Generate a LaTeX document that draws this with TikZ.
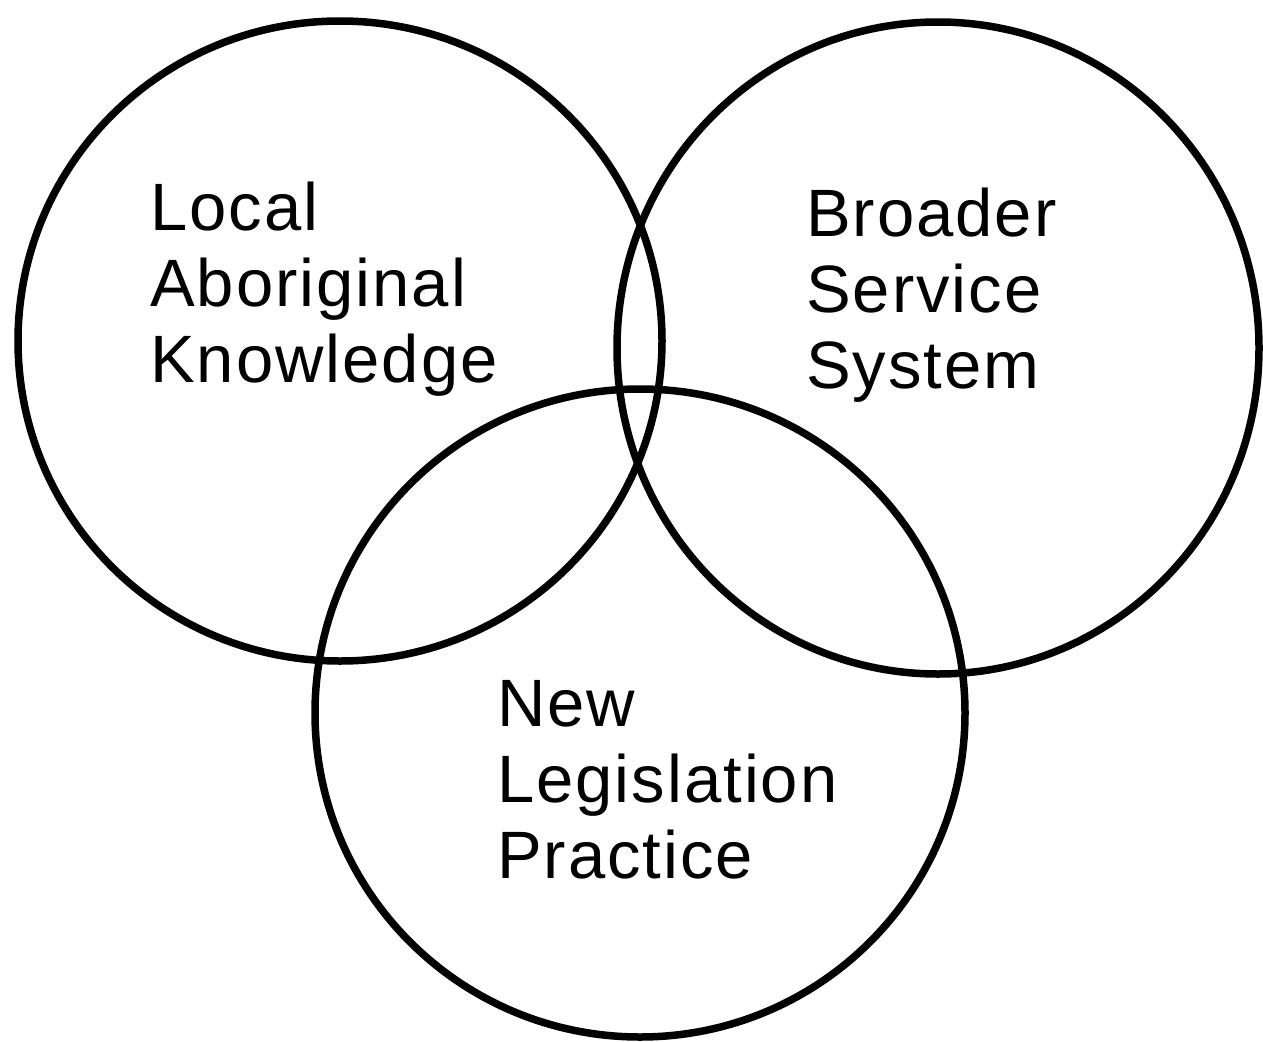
\documentclass[tikz,border=0pt]{standalone}
\usepackage{fontspec}
\setmainfont[LetterSpace=3]{Liberation Sans}
\begin{document}
\begin{tikzpicture}[x=1pt,y=-1pt,
  ring/.style={draw=black,line width=7.5pt},
  label/.style={anchor=base west,inner sep=0pt,align=left,font=\fontsize{67}{76}\selectfont}]
\useasboundingbox (0,0) rectangle (1263,1041);
\draw[ring] (340,341) ellipse [x radius=322, y radius=320];
\draw[ring] (938,348) ellipse [x radius=321, y radius=326];
\draw[ring] (640,713) ellipse [x radius=325, y radius=324];
\node[label] (lak) at (150,382) {Local\\Aboriginal\\Knowledge};
\node[label] (bss) at (806,388) {Broader\\Service\\System};
\node[label] (nlp) at (497,878) {New\\Legislation\\Practice};
\end{tikzpicture}
\end{document}
